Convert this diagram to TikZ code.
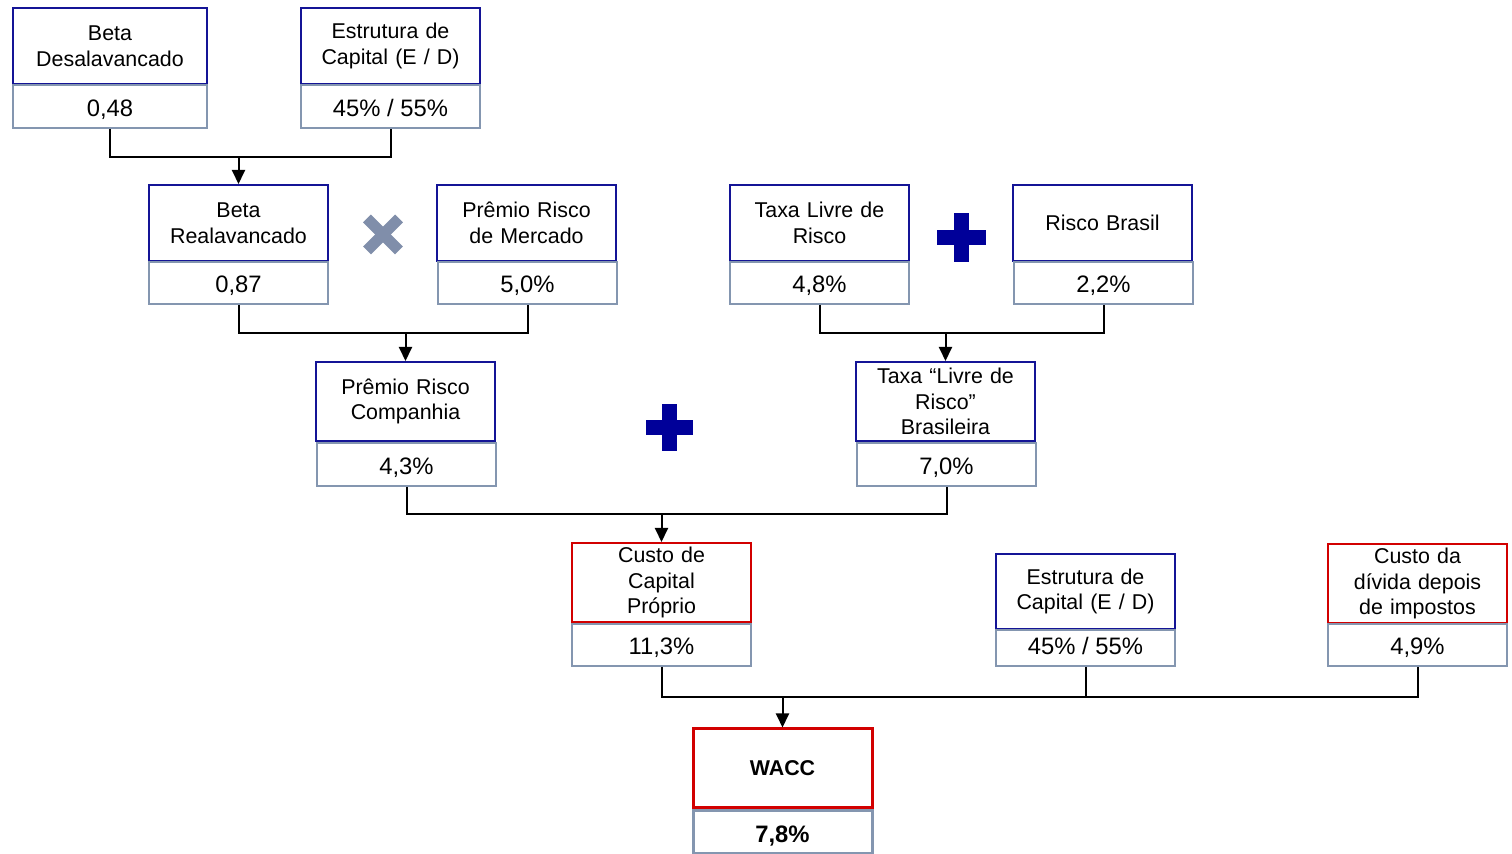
\documentclass[tikz,border=0pt]{standalone}
\usepackage{fontspec}
\setmainfont{Liberation Sans}
\usetikzlibrary{arrows.meta}
\definecolor{hblue}{RGB}{20,20,150}
\definecolor{vgray}{RGB}{132,150,176}
\definecolor{hred}{RGB}{210,0,0}
\definecolor{xgray}{RGB}{128,142,170}
\definecolor{pblue}{RGB}{0,0,153}
\begin{document}
\begin{tikzpicture}[x=0.5pt,y=-0.5pt,
  hdr/.style={draw=hblue, line width=1pt, fill=white, minimum width=89.5pt, text width=85pt, align=center, inner sep=0pt,
    font=\fontsize{10.7}{12.8}\selectfont},
  hdrred/.style={hdr, draw=hred},
  val/.style={draw=vgray, line width=1pt, fill=white, minimum width=89.5pt, align=center, inner sep=0pt,
    text height=10pt, text depth=0pt, font=\fontsize{11.9}{13}\selectfont},
  conn/.style={draw=black, line width=1pt},
  arr/.style={conn, -{Triangle[width=6.5pt,length=7pt]}},
  xmark/.style={draw=xgray, line width=5.5pt},
  pmark/.style={fill=pblue}
]
\useasboundingbox (0,0) rectangle (1512,854);

% Row 1
\node[hdr, minimum height=38pt, minimum width=97pt, text width=92pt] (bd) at (110,46) {Beta\\Desalavancado};
\node[val, minimum height=21.5pt, minimum width=97pt] (bdv) at (110,106.5) {0,48};
\node[hdr, minimum height=38pt] (ec) at (390.5,46) {Estrutura de\\Capital (E / D)};
\node[val, minimum height=21.5pt] (ecv) at (390.5,106.5) {45\% / 55\%};

% Row 2
\node[hdr, minimum height=38pt] (br) at (238.5,223) {Beta\\Realavancado};
\node[val, minimum height=21pt] (brv) at (238.5,283) {0,87};
\node[hdr, minimum height=38pt] (pm) at (526.5,223) {Prêmio Risco\\de Mercado};
\node[val, minimum height=21pt] (pmv) at (527.5,283) {5,0\%};
\node[hdr, minimum height=38pt] (tl) at (819.5,223) {Taxa Livre de\\Risco};
\node[val, minimum height=21pt] (tlv) at (819.5,283) {4,8\%};
\node[hdr, minimum height=38pt] (rb) at (1102.5,223) {Risco Brasil};
\node[val, minimum height=21pt] (rbv) at (1103.5,283) {2,2\%};

% X mark
\draw[xmark] (367,218.5) -- (399,250.5);
\draw[xmark] (367,250.5) -- (399,218.5);
% plus 1
\fill[pmark] (937,230) rectangle (986,245);
\fill[pmark] (954,213) rectangle (969,262);

% Row 3
\node[hdr, minimum height=39.5pt] (pc) at (405.5,401.5) {Prêmio Risco\\Companhia};
\node[val, minimum height=21.5pt] (pcv) at (406.5,464.5) {4,3\%};
\node[hdr, minimum height=39.5pt] (tb) at (945.5,401.5) {Taxa “Livre de\\Risco”\\Brasileira};
\node[val, minimum height=21.5pt] (tbv) at (946.5,464.5) {7,0\%};
% plus 2
\fill[pmark] (646,420.5) rectangle (693,435.5);
\fill[pmark] (661.5,404) rectangle (676.5,451);

% Row 4
\node[hdrred, minimum height=39.5pt] (cc) at (661.5,582.5) {Custo de\\Capital\\Próprio};
\node[val, minimum height=21pt] (ccv) at (661.5,645) {11,3\%};
\node[hdr, minimum height=37.5pt] (ec2) at (1085.5,591.5) {Estrutura de\\Capital (E / D)};
\node[val, minimum height=18pt, text height=7pt] (ec2v) at (1085.5,648) {45\% / 55\%};
\node[hdrred, minimum height=39.5pt] (cd) at (1417.5,583.5) {Custo da\\dívida depois\\de impostos};
\node[val, minimum height=21pt] (cdv) at (1417.5,645) {4,9\%};

% Row 5
\node[hdrred, line width=1.5pt, minimum height=39.5pt, font=\fontsize{10.7}{12.8}\selectfont\bfseries] (wacc) at (782.5,768.5) {WACC};
\node[val, line width=1.5pt, minimum height=21.5pt, font=\fontsize{11.9}{13}\selectfont\bfseries] (waccv) at (782.5,832.5) {7,8\%};

% Connectors
\coordinate (j1) at (238.5,157);
\draw[conn] (bdv.south) |- (j1) -| (ecv.south);
\draw[arr] (j1) -- (br.north);

\coordinate (j2) at (405.5,333);
\draw[conn] (brv.south) |- (j2) -| (pmv.south);
\draw[arr] (j2) -- (pc.north);

\coordinate (j3) at (945.5,333);
\draw[conn] (tlv.south) |- (j3) -| (rbv.south);
\draw[arr] (j3) -- (tb.north);

\coordinate (j4) at (661.5,514);
\draw[conn] (pcv.south) |- (j4) -| (tbv.south);
\draw[arr] (j4) -- (cc.north);

\coordinate (j5) at (782.5,697);
\draw[conn] (ccv.south) |- (j5) -| (cdv.south);
\draw[conn] (ec2v.south) -- (ec2v.south |- j5);
\draw[arr] (j5) -- (wacc.north);
\end{tikzpicture}
\end{document}
